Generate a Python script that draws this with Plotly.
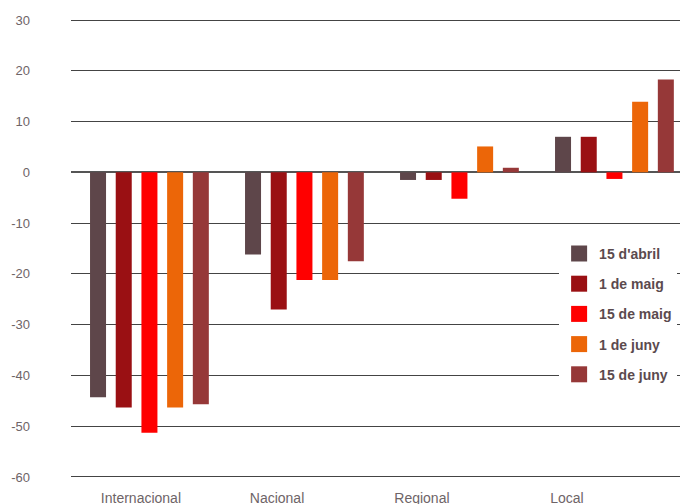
import plotly.graph_objects as go

categories = ["Internacional", "Nacional", "Regional", "Local"]
series_names = ["15 d'abril", "1 de maig", "15 de maig", "1 de juny", "15 de juny"]
s_15_abril = [-44.3, -16.2, -1.5, 7.0]
s_1_maig = [-46.3, -27.0, -1.5, 7.0]
s_15_maig = [-51.3, -21.2, -5.2, -1.3]
s_1_juny = [-46.3, -21.2, 5.1, 13.9]
s_15_juny = [-45.7, -17.5, 0.9, 18.3]
series_values = [s_15_abril, s_1_maig, s_15_maig, s_1_juny, s_15_juny]
colors = ["#5E464A", "#9A1013", "#FF0000", "#EC6608", "#963838"]
tick_vals = [30, 20, 10, 0, -10, -20, -30, -40, -50, -60]
tick_text = ["30", "20", "10", "0", "-10", "-20", "-30", "-40", "-50", "-60"]

# category label placement (offset from category index, as in the original)
label_offsets = [-0.055, -0.177, -0.242, -0.306]

fig = go.Figure()
for name, vals, col in zip(series_names, series_values, colors):
    fig.add_trace(go.Bar(x=categories, y=vals, name=name, marker_color=col,
                         marker_line_width=0, showlegend=False))
for i, (name, col) in enumerate(zip(series_names, colors)):
    fig.add_trace(go.Scatter(x=[None], y=[None], mode="markers", name=name,
                             legendgroup=str(i),
                             marker=dict(symbol="square", size=16, color=col)))

fig.update_layout(
    width=680, height=504,
    margin=dict(l=71, r=0, t=18, b=25),
    paper_bgcolor="white", plot_bgcolor="white",
    barmode="group", bargap=0.171, bargroupgap=0.377,
    font=dict(family="Liberation Sans, Arial, sans-serif", color="#6E6467"),
    legend=dict(x=0.8015, y=0.523, xanchor="left", yanchor="top",
                bgcolor="white", tracegroupgap=9, traceorder="grouped",
                font=dict(size=14, color="#5B4A4E", weight="bold",
                          family="Liberation Sans, Arial, sans-serif"),
                itemsizing="trace"),
    showlegend=True,
)
fig.update_xaxes(range=[-0.506, 3.423], showgrid=False, zeroline=False, showline=False,
                 automargin=False, tickmode="array",
                 tickvals=[i + o for i, o in enumerate(label_offsets)], ticktext=categories,
                 ticks="", tickfont=dict(size=14, color="#6E6467"), ticklabelstandoff=9)
fig.update_yaxes(range=[-60.4, 30.4], tickmode="array", tickvals=tick_vals, ticktext=tick_text,
                 showgrid=True, gridcolor="#444444",
                 gridwidth=1.3, zeroline=True, zerolinecolor="#555555", zerolinewidth=1.5,
                 automargin=False,
                 showline=False, ticks="", tickfont=dict(size=13, color="#6E6467"),
                 ticklabelstandoff=40)

fig.write_html("out.html", config={"displayModeBar": False},
               post_script="document.body.style.margin='0';document.body.style.overflow='hidden';")
